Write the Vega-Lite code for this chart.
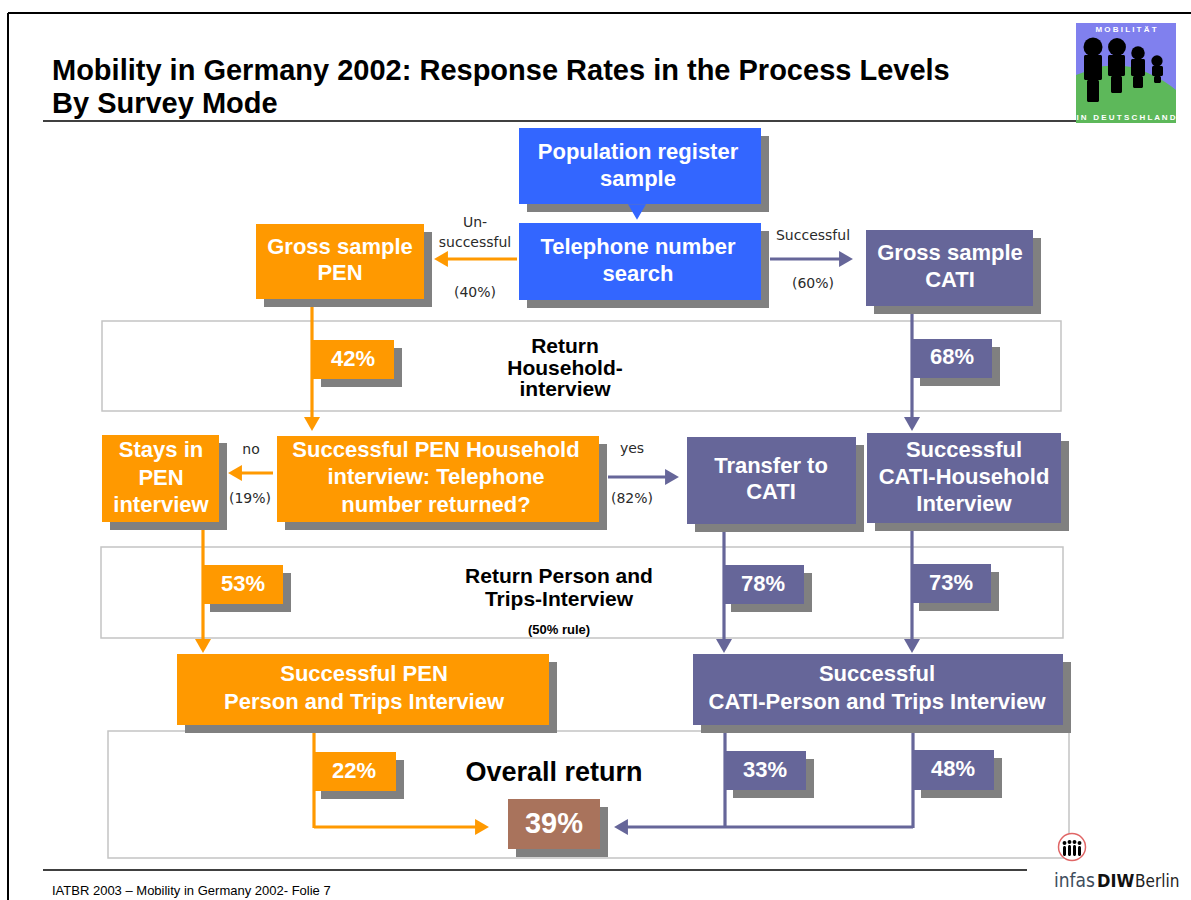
{
  "$schema": "https://vega.github.io/schema/vega-lite/v6.json",
  "width": 1191,
  "height": 900,
  "padding": 0,
  "autosize": {"type": "none"},
  "background": "white",
  "config": {"view": {"stroke": null}},
  "datasets": {
    "frame": [
      {"x": 8, "y": 13, "x2": 1191, "y2": 13, "w": "frame"},
      {"x": 8, "y": 13, "x2": 8, "y2": 900, "w": "frame"},
      {"x": 43, "y": 121, "x2": 1080, "y2": 121, "w": "sep"},
      {"x": 43, "y": 870, "x2": 1027, "y2": 870, "w": "sep"}
    ],
    "bands": [
      {"level": "Return Household-interview", "x": 102, "x2": 1061, "y": 321, "y2": 411},
      {"level": "Return Person and Trips-Interview", "x": 101, "x2": 1063, "y": 547, "y2": 638},
      {"level": "Overall return", "x": 108, "x2": 1069, "y": 731, "y2": 858}
    ],
    "flows": [
      {"mode": "PEN", "x": 517, "y": 259, "x2": 440, "y2": 259},
      {"mode": "CATI", "x": 770, "y": 259, "x2": 847, "y2": 259},
      {"mode": "PEN", "x": 312, "y": 299, "x2": 312, "y2": 423},
      {"mode": "CATI", "x": 912, "y": 306, "x2": 912, "y2": 423},
      {"mode": "PEN", "x": 273, "y": 473, "x2": 234, "y2": 473},
      {"mode": "CATI", "x": 608, "y": 477, "x2": 673, "y2": 477},
      {"mode": "PEN", "x": 203, "y": 522, "x2": 203, "y2": 645},
      {"mode": "CATI", "x": 724, "y": 524, "x2": 724, "y2": 645},
      {"mode": "CATI", "x": 912, "y": 522, "x2": 912, "y2": 645},
      {"mode": "PEN", "x": 314, "y": 725, "x2": 314, "y2": 828},
      {"mode": "PEN", "x": 314, "y": 827, "x2": 483, "y2": 827},
      {"mode": "CATI", "x": 725, "y": 725, "x2": 725, "y2": 828},
      {"mode": "CATI", "x": 913, "y": 725, "x2": 913, "y2": 828},
      {"mode": "CATI", "x": 913, "y": 827, "x2": 620, "y2": 827}
    ],
    "heads": [
      {"mode": "PEN", "dir": "left", "x": 441, "y": 259},
      {"mode": "CATI", "dir": "right", "x": 846, "y": 259},
      {"mode": "PEN", "dir": "down", "x": 312, "y": 424},
      {"mode": "CATI", "dir": "down", "x": 912, "y": 424},
      {"mode": "PEN", "dir": "left", "x": 235, "y": 473},
      {"mode": "CATI", "dir": "right", "x": 672, "y": 477},
      {"mode": "PEN", "dir": "down", "x": 203, "y": 646},
      {"mode": "CATI", "dir": "down", "x": 724, "y": 646},
      {"mode": "CATI", "dir": "down", "x": 912, "y": 646},
      {"mode": "PEN", "dir": "right", "x": 482, "y": 827},
      {"mode": "CATI", "dir": "left", "x": 621, "y": 827}
    ],
    "boxes": [
      {"id": "register", "mode": "Register", "x": 519, "x2": 761, "y": 128, "y2": 204},
      {"id": "search", "mode": "Register", "x": 519, "x2": 761, "y": 223, "y2": 300},
      {"id": "grossPEN", "mode": "PEN", "x": 256, "x2": 424, "y": 224, "y2": 299},
      {"id": "grossCATI", "mode": "CATI", "x": 866, "x2": 1033, "y": 230, "y2": 306},
      {"id": "r42", "mode": "PEN", "x": 313, "x2": 394, "y": 340, "y2": 379},
      {"id": "r68", "mode": "CATI", "x": 912, "x2": 992, "y": 339, "y2": 378},
      {"id": "stays", "mode": "PEN", "x": 102, "x2": 219, "y": 435, "y2": 522},
      {"id": "question", "mode": "PEN", "x": 277, "x2": 599, "y": 436, "y2": 522},
      {"id": "transfer", "mode": "CATI", "x": 687, "x2": 856, "y": 437, "y2": 524},
      {"id": "catiHH", "mode": "CATI", "x": 867, "x2": 1061, "y": 433, "y2": 523},
      {"id": "r53", "mode": "PEN", "x": 202, "x2": 283, "y": 565, "y2": 604},
      {"id": "r78", "mode": "CATI", "x": 723, "x2": 804, "y": 565, "y2": 604},
      {"id": "r73", "mode": "CATI", "x": 911, "x2": 991, "y": 564, "y2": 603},
      {"id": "penPT", "mode": "PEN", "x": 177, "x2": 549, "y": 654, "y2": 725},
      {"id": "catiPT", "mode": "CATI", "x": 693, "x2": 1063, "y": 654, "y2": 725},
      {"id": "r22", "mode": "PEN", "x": 313, "x2": 396, "y": 752, "y2": 791},
      {"id": "r33", "mode": "CATI", "x": 725, "x2": 806, "y": 751, "y2": 790},
      {"id": "r48", "mode": "CATI", "x": 913, "x2": 994, "y": 750, "y2": 790},
      {"id": "total", "mode": "Overall", "x": 508, "x2": 600, "y": 799, "y2": 849}
    ],
    "pointer": [{"mode": "Register", "x": 637, "y": 212}],
    "texts": [
      {"role": "title", "text": "Mobility in Germany 2002: Response Rates in the Process Levels", "x": 52, "y": 80},
      {"role": "title", "text": "By Survey Mode", "x": 52, "y": 113},
      {"role": "footer", "text": "IATBR 2003 – Mobility in Germany 2002- Folie 7", "x": 52, "y": 895},
      {"role": "box", "text": "Population register", "x": 638, "y": 152},
      {"role": "box", "text": "sample", "x": 638, "y": 179},
      {"role": "box", "text": "Telephone number", "x": 638, "y": 247},
      {"role": "box", "text": "search", "x": 638, "y": 274},
      {"role": "box", "text": "Gross sample", "x": 340, "y": 247},
      {"role": "box", "text": "PEN", "x": 340, "y": 273},
      {"role": "box", "text": "Gross sample", "x": 950, "y": 253},
      {"role": "box", "text": "CATI", "x": 950, "y": 280},
      {"role": "box", "text": "Stays in", "x": 161, "y": 450},
      {"role": "box", "text": "PEN", "x": 161, "y": 478},
      {"role": "box", "text": "interview", "x": 161, "y": 505},
      {"role": "box", "text": "Successful PEN Household", "x": 436, "y": 450},
      {"role": "box", "text": "interview: Telephone", "x": 436, "y": 477},
      {"role": "box", "text": "number returned?", "x": 436, "y": 505},
      {"role": "box", "text": "Transfer to", "x": 771, "y": 466},
      {"role": "box", "text": "CATI", "x": 771, "y": 492},
      {"role": "box", "text": "Successful", "x": 964, "y": 450},
      {"role": "box", "text": "CATI-Household", "x": 964, "y": 477},
      {"role": "box", "text": "Interview", "x": 964, "y": 504},
      {"role": "box", "text": "Successful PEN", "x": 364, "y": 674},
      {"role": "box", "text": "Person and Trips Interview", "x": 364, "y": 702},
      {"role": "box", "text": "Successful", "x": 877, "y": 674},
      {"role": "box", "text": "CATI-Person and Trips Interview", "x": 877, "y": 702},
      {"role": "pct", "text": "42%", "x": 353, "y": 359},
      {"role": "pct", "text": "68%", "x": 952, "y": 357},
      {"role": "pct", "text": "53%", "x": 243, "y": 584},
      {"role": "pct", "text": "78%", "x": 763, "y": 584},
      {"role": "pct", "text": "73%", "x": 951, "y": 583},
      {"role": "pct", "text": "22%", "x": 354, "y": 771},
      {"role": "pct", "text": "33%", "x": 765, "y": 770},
      {"role": "pct", "text": "48%", "x": 953, "y": 769},
      {"role": "total", "text": "39%", "x": 554, "y": 824},
      {"role": "band", "text": "Return", "x": 565, "y": 347},
      {"role": "band", "text": "Household-", "x": 565, "y": 369},
      {"role": "band", "text": "interview", "x": 565, "y": 390},
      {"role": "band", "text": "Return Person and", "x": 559, "y": 577},
      {"role": "band", "text": "Trips-Interview", "x": 559, "y": 600},
      {"role": "note", "text": "(50% rule)", "x": 559, "y": 630},
      {"role": "overall", "text": "Overall return", "x": 554, "y": 773},
      {"role": "small", "text": "Un-", "x": 475, "y": 223},
      {"role": "small", "text": "successful", "x": 475, "y": 243},
      {"role": "small", "text": "(40%)", "x": 475, "y": 293},
      {"role": "small", "text": "Successful", "x": 813, "y": 236},
      {"role": "small", "text": "(60%)", "x": 813, "y": 284},
      {"role": "small", "text": "no", "x": 251, "y": 450},
      {"role": "small", "text": "(19%)", "x": 250, "y": 499},
      {"role": "small", "text": "yes", "x": 632, "y": 449},
      {"role": "small", "text": "(82%)", "x": 632, "y": 499},
      {"role": "logoTop", "text": "M O B I L I T Ä T", "x": 1126, "y": 30},
      {"role": "logoBottom", "text": "I N\u00a0\u00a0 D E U T S C H L A N D", "x": 1126, "y": 118},
      {"role": "infas", "text": "infas", "x": 1054, "y": 887},
      {"role": "diw", "text": "DIW", "x": 1097, "y": 887},
      {"role": "berlin", "text": "Berlin", "x": 1135, "y": 887}
    ],
    "logoSky": [{"part": "sky", "x": 1076, "x2": 1176, "y": 23, "y2": 123}],
    "logoHill": [
      {"x": 1076, "y": 75, "y2": 123},
      {"x": 1090, "y": 70, "y2": 123},
      {"x": 1105, "y": 66, "y2": 123},
      {"x": 1120, "y": 66, "y2": 123},
      {"x": 1135, "y": 68, "y2": 123},
      {"x": 1150, "y": 74, "y2": 123},
      {"x": 1165, "y": 82, "y2": 123},
      {"x": 1176, "y": 90, "y2": 123}
    ],
    "logoBodies": [
      {"fig": 1, "x": 1084, "x2": 1102, "y": 55, "y2": 80},
      {"fig": 1, "x": 1087, "x2": 1099, "y": 80, "y2": 102},
      {"fig": 2, "x": 1108, "x2": 1125, "y": 55, "y2": 76},
      {"fig": 2, "x": 1111, "x2": 1122, "y": 76, "y2": 93},
      {"fig": 3, "x": 1131, "x2": 1145, "y": 59, "y2": 76},
      {"fig": 3, "x": 1133, "x2": 1143, "y": 76, "y2": 88},
      {"fig": 4, "x": 1152, "x2": 1163, "y": 66, "y2": 76},
      {"fig": 4, "x": 1154, "x2": 1161, "y": 76, "y2": 83},
      {"fig": 5, "x": 1063, "x2": 1066, "y": 846, "y2": 856},
      {"fig": 6, "x": 1068, "x2": 1071, "y": 845, "y2": 856},
      {"fig": 7, "x": 1073, "x2": 1076, "y": 845, "y2": 856},
      {"fig": 8, "x": 1078, "x2": 1081, "y": 846, "y2": 856}
    ],
    "logoHeads": [
      {"fig": 1, "x": 1093, "y": 47, "d": 289},
      {"fig": 2, "x": 1117, "y": 47, "d": 256},
      {"fig": 3, "x": 1138, "y": 53, "d": 144},
      {"fig": 4, "x": 1157, "y": 61, "d": 100},
      {"fig": 5, "x": 1064.5, "y": 843, "d": 9},
      {"fig": 6, "x": 1069.5, "y": 842, "d": 9},
      {"fig": 7, "x": 1074.5, "y": 842, "d": 9},
      {"fig": 8, "x": 1079.5, "y": 843, "d": 9}
    ],
    "seal": [{"x": 1072, "y": 847}]
  },
  "layer": [
    {
      "data": {"name": "frame"},
      "transform": [{"filter": "datum.w === 'frame'"}],
      "mark": {"type": "rule", "color": "#000000", "strokeWidth": 2},
      "encoding": {
        "x": {"field": "x", "type": "quantitative", "scale": {"domain": [0, 1191], "range": [0, 1191], "nice": false, "zero": false}, "axis": null},
        "y": {"field": "y", "type": "quantitative", "scale": {"domain": [0, 900], "range": [0, 900], "nice": false, "zero": false}, "axis": null},
        "x2": {"field": "x2"},
        "y2": {"field": "y2"}
      }
    },
    {
      "data": {"name": "frame"},
      "transform": [{"filter": "datum.w === 'sep'"}],
      "mark": {"type": "rule", "color": "#000000", "strokeWidth": 1.3},
      "encoding": {
        "x": {"field": "x", "type": "quantitative", "axis": null},
        "y": {"field": "y", "type": "quantitative", "axis": null},
        "x2": {"field": "x2"},
        "y2": {"field": "y2"}
      }
    },
    {
      "data": {"name": "bands"},
      "mark": {"type": "rect", "fill": null, "fillOpacity": 0, "stroke": "#C4C4C4", "strokeWidth": 1.5},
      "encoding": {
        "x": {"field": "x", "type": "quantitative", "axis": null},
        "x2": {"field": "x2"},
        "y": {"field": "y", "type": "quantitative", "axis": null},
        "y2": {"field": "y2"}
      }
    },
    {
      "data": {"name": "flows"},
      "mark": {"type": "rule", "strokeWidth": 3.2},
      "encoding": {
        "x": {"field": "x", "type": "quantitative", "axis": null},
        "y": {"field": "y", "type": "quantitative", "axis": null},
        "x2": {"field": "x2"},
        "y2": {"field": "y2"},
        "color": {"field": "mode", "type": "nominal", "legend": null, "scale": {"domain": ["Register", "PEN", "CATI", "Overall"], "range": ["#3366FF", "#FF9900", "#666699", "#A9735C"]}}
      }
    },
    {
      "data": {"name": "heads"},
      "mark": {"type": "point", "filled": true, "opacity": 1, "size": 256, "strokeWidth": 0},
      "encoding": {
        "x": {"field": "x", "type": "quantitative", "axis": null},
        "y": {"field": "y", "type": "quantitative", "axis": null},
        "shape": {"field": "dir", "type": "nominal", "legend": null, "scale": {"domain": ["left", "right", "down"], "range": ["triangle-left", "triangle-right", "triangle-down"]}},
        "color": {"field": "mode", "type": "nominal", "legend": null}
      }
    },
    {
      "data": {"name": "boxes"},
      "mark": {"type": "rect", "fill": "#808080", "xOffset": 8, "x2Offset": 8, "yOffset": 8, "y2Offset": 8},
      "encoding": {
        "x": {"field": "x", "type": "quantitative", "axis": null},
        "x2": {"field": "x2"},
        "y": {"field": "y", "type": "quantitative", "axis": null},
        "y2": {"field": "y2"}
      }
    },
    {
      "data": {"name": "boxes"},
      "mark": {"type": "rect", "opacity": 1},
      "encoding": {
        "x": {"field": "x", "type": "quantitative", "axis": null},
        "x2": {"field": "x2"},
        "y": {"field": "y", "type": "quantitative", "axis": null},
        "y2": {"field": "y2"},
        "color": {"field": "mode", "type": "nominal", "legend": null}
      }
    },
    {
      "data": {"name": "pointer"},
      "mark": {"type": "point", "shape": "triangle-down", "filled": true, "opacity": 1, "size": 324, "strokeWidth": 0},
      "encoding": {
        "x": {"field": "x", "type": "quantitative", "axis": null},
        "y": {"field": "y", "type": "quantitative", "axis": null},
        "color": {"field": "mode", "type": "nominal", "legend": null}
      }
    },
    {
      "data": {"name": "texts"},
      "transform": [{"filter": "datum.role === 'title'"}],
      "mark": {"type": "text", "align": "left", "baseline": "alphabetic", "font": "Liberation Sans", "fontWeight": "bold", "fontSize": 29, "color": "#000000"},
      "encoding": {
        "x": {"field": "x", "type": "quantitative", "axis": null},
        "y": {"field": "y", "type": "quantitative", "axis": null},
        "text": {"field": "text"}
      }
    },
    {
      "data": {"name": "texts"},
      "transform": [{"filter": "datum.role === 'footer'"}],
      "mark": {"type": "text", "align": "left", "baseline": "alphabetic", "font": "Liberation Sans", "fontSize": 13, "color": "#000000"},
      "encoding": {
        "x": {"field": "x", "type": "quantitative", "axis": null},
        "y": {"field": "y", "type": "quantitative", "axis": null},
        "text": {"field": "text"}
      }
    },
    {
      "data": {"name": "texts"},
      "transform": [{"filter": "datum.role === 'box' || datum.role === 'pct'"}],
      "mark": {"type": "text", "align": "center", "baseline": "middle", "font": "Liberation Sans", "fontWeight": "bold", "fontSize": 22, "color": "#FFFFFF"},
      "encoding": {
        "x": {"field": "x", "type": "quantitative", "axis": null},
        "y": {"field": "y", "type": "quantitative", "axis": null},
        "text": {"field": "text"}
      }
    },
    {
      "data": {"name": "texts"},
      "transform": [{"filter": "datum.role === 'total'"}],
      "mark": {"type": "text", "align": "center", "baseline": "middle", "font": "Liberation Sans", "fontWeight": "bold", "fontSize": 29, "color": "#FFFFFF"},
      "encoding": {
        "x": {"field": "x", "type": "quantitative", "axis": null},
        "y": {"field": "y", "type": "quantitative", "axis": null},
        "text": {"field": "text"}
      }
    },
    {
      "data": {"name": "texts"},
      "transform": [{"filter": "datum.role === 'band'"}],
      "mark": {"type": "text", "align": "center", "baseline": "middle", "font": "Liberation Sans", "fontWeight": "bold", "fontSize": 21, "color": "#000000"},
      "encoding": {
        "x": {"field": "x", "type": "quantitative", "axis": null},
        "y": {"field": "y", "type": "quantitative", "axis": null},
        "text": {"field": "text"}
      }
    },
    {
      "data": {"name": "texts"},
      "transform": [{"filter": "datum.role === 'note'"}],
      "mark": {"type": "text", "align": "center", "baseline": "middle", "font": "Liberation Sans", "fontWeight": "bold", "fontSize": 13, "color": "#000000"},
      "encoding": {
        "x": {"field": "x", "type": "quantitative", "axis": null},
        "y": {"field": "y", "type": "quantitative", "axis": null},
        "text": {"field": "text"}
      }
    },
    {
      "data": {"name": "texts"},
      "transform": [{"filter": "datum.role === 'overall'"}],
      "mark": {"type": "text", "align": "center", "baseline": "middle", "font": "Liberation Sans", "fontWeight": "bold", "fontSize": 27, "color": "#000000"},
      "encoding": {
        "x": {"field": "x", "type": "quantitative", "axis": null},
        "y": {"field": "y", "type": "quantitative", "axis": null},
        "text": {"field": "text"}
      }
    },
    {
      "data": {"name": "texts"},
      "transform": [{"filter": "datum.role === 'small'"}],
      "mark": {"type": "text", "align": "center", "baseline": "middle", "font": "DejaVu Sans", "fontSize": 14, "color": "#2A2A2A"},
      "encoding": {
        "x": {"field": "x", "type": "quantitative", "axis": null},
        "y": {"field": "y", "type": "quantitative", "axis": null},
        "text": {"field": "text"}
      }
    },
    {
      "data": {"name": "logoSky"},
      "mark": {"type": "rect", "fill": "#8080EE"},
      "encoding": {
        "x": {"field": "x", "type": "quantitative", "axis": null},
        "x2": {"field": "x2"},
        "y": {"field": "y", "type": "quantitative", "axis": null},
        "y2": {"field": "y2"}
      }
    },
    {
      "data": {"name": "logoHill"},
      "mark": {"type": "area", "color": "#5DB85A", "opacity": 1, "interpolate": "monotone"},
      "encoding": {
        "x": {"field": "x", "type": "quantitative", "axis": null},
        "y": {"field": "y", "type": "quantitative", "axis": null},
        "y2": {"field": "y2"}
      }
    },
    {
      "data": {"name": "seal"},
      "mark": {"type": "point", "shape": "circle", "filled": true, "size": 729, "fill": "#FFFFFF", "stroke": "#E06666", "strokeWidth": 1.5, "opacity": 1},
      "encoding": {
        "x": {"field": "x", "type": "quantitative", "axis": null},
        "y": {"field": "y", "type": "quantitative", "axis": null}
      }
    },
    {
      "data": {"name": "logoBodies"},
      "mark": {"type": "rect", "fill": "#000000", "cornerRadius": 1.5},
      "encoding": {
        "x": {"field": "x", "type": "quantitative", "axis": null},
        "x2": {"field": "x2"},
        "y": {"field": "y", "type": "quantitative", "axis": null},
        "y2": {"field": "y2"}
      }
    },
    {
      "data": {"name": "logoHeads"},
      "mark": {"type": "point", "shape": "circle", "filled": true, "opacity": 1, "color": "#000000", "strokeWidth": 0},
      "encoding": {
        "x": {"field": "x", "type": "quantitative", "axis": null},
        "y": {"field": "y", "type": "quantitative", "axis": null},
        "size": {"field": "d", "type": "quantitative", "legend": null, "scale": {"type": "identity"}}
      }
    },
    {
      "data": {"name": "texts"},
      "transform": [{"filter": "datum.role === 'logoTop' || datum.role === 'logoBottom'"}],
      "mark": {"type": "text", "align": "center", "baseline": "middle", "font": "Liberation Sans", "fontWeight": "bold", "fontSize": 8, "color": "#FFFFFF"},
      "encoding": {
        "x": {"field": "x", "type": "quantitative", "axis": null},
        "y": {"field": "y", "type": "quantitative", "axis": null},
        "text": {"field": "text"}
      }
    },
    {
      "data": {"name": "texts"},
      "transform": [{"filter": "datum.role === 'infas'"}],
      "mark": {"type": "text", "align": "left", "baseline": "alphabetic", "font": "DejaVu Sans Condensed", "fontSize": 19, "color": "#3E4C5C"},
      "encoding": {
        "x": {"field": "x", "type": "quantitative", "axis": null},
        "y": {"field": "y", "type": "quantitative", "axis": null},
        "text": {"field": "text"}
      }
    },
    {
      "data": {"name": "texts"},
      "transform": [{"filter": "datum.role === 'diw'"}],
      "mark": {"type": "text", "align": "left", "baseline": "alphabetic", "font": "DejaVu Sans Condensed", "fontWeight": "bold", "fontSize": 18, "color": "#111111"},
      "encoding": {
        "x": {"field": "x", "type": "quantitative", "axis": null},
        "y": {"field": "y", "type": "quantitative", "axis": null},
        "text": {"field": "text"}
      }
    },
    {
      "data": {"name": "texts"},
      "transform": [{"filter": "datum.role === 'berlin'"}],
      "mark": {"type": "text", "align": "left", "baseline": "alphabetic", "font": "DejaVu Sans Condensed", "fontSize": 17, "color": "#222222"},
      "encoding": {
        "x": {"field": "x", "type": "quantitative", "axis": null},
        "y": {"field": "y", "type": "quantitative", "axis": null},
        "text": {"field": "text"}
      }
    }
  ]
}
